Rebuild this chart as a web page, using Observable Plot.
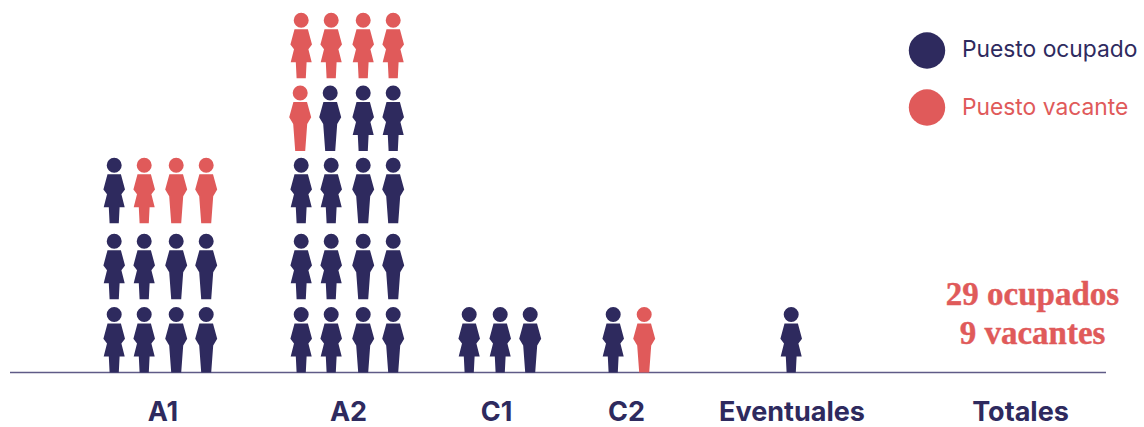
<!DOCTYPE html>
<html>
<head>
<meta charset="utf-8">
<script src="https://cdn.jsdelivr.net/npm/d3@7"></script>
<script src="https://cdn.jsdelivr.net/npm/@observablehq/plot@0.6"></script>
<style>html,body{margin:0;padding:0;background:#fff}svg{display:block}</style>
</head>
<body>
<div id="chart"></div>
<script>
// ---- data: one string per row, bottom row first. W/M = figure, lower case = vacant
const groups = ["A1", "A2", "C1", "C2", "Eventuales"];
const rowsA1 = ["WWMM", "WWMM", "Wwmm"];
const rowsA2 = ["WWMM", "WWMM", "WWMM", "mMWW", "wwww"];
const rowsC1 = ["WWM"];
const rowsC2 = ["Wm"];
const rowsEventuales = ["W"];
const totalsText = ["29 ocupados", "9 vacantes"];
const totalsLabel = "Totales";
const legendLabels = ["Puesto ocupado", "Puesto vacante"];

// ---- layout & style
const navy = "#2e2a5e", coral = "#e05a5a";
const columnX = {
  A1: [113.7, 143.7, 175.7, 205.7],
  A2: [300.7, 330.7, 362.7, 392.7],
  C1: [468.7, 499.7, 529.7],
  C2: [612.7, 643.7],
  Eventuales: [790.7]
};
const rowY = [314, 240.7, 164.7, 92.5, 19.7];
const labelX = {A1: 162.5, A2: 348, C1: 496, C2: 626, Eventuales: 791.5};
const rowsOf = {A1: rowsA1, A2: rowsA2, C1: rowsC1, C2: rowsC2, Eventuales: rowsEventuales};

function figure(bodyPoints) {
  return {
    draw(ctx) {
      ctx.moveTo(7.5, 0);
      ctx.arc(0, 0, 7.5, 0, 2 * Math.PI);
      ctx.closePath();
      bodyPoints.forEach(([x, y], i) => i ? ctx.lineTo(x, y) : ctx.moveTo(x, y));
      ctx.closePath();
    }
  };
}
const woman = figure([[-6.7, 9], [6.7, 9], [10.8, 24.3], [7.2, 29], [10.5, 42], [5.4, 42], [4.6, 58], [-4.6, 58], [-5.4, 42], [-10.5, 42], [-7.2, 29], [-10.8, 24.3]]);
const man = figure([[-6.8, 9], [6.8, 9], [11, 24.3], [7, 31], [5, 58], [-5, 58], [-7, 31], [-11, 24.3]]);

const people = groups.flatMap(g => rowsOf[g].flatMap((row, r) => [...row].map((c, i) => ({
  x: columnX[g][i] - (g === "A2" && r === 3 && i < 2 ? 1 : 0),
  y: rowY[r],
  kind: c.toUpperCase(),
  vacant: c === c.toLowerCase()
}))));

const labelFont = {fontFamily: "Inter", fontWeight: 700, fontSize: 27};
const labelY = 411.5;
const chart = Plot.plot({
  width: 1144, height: 427,
  margin: 0,
  x: {type: "linear", domain: [0, 1144], range: [0, 1144], axis: null},
  y: {type: "linear", domain: [0, 427], range: [0, 427], axis: null},
  marks: [
    Plot.ruleY([372], {x1: 10, x2: 1106, stroke: "#5f5b87", strokeWidth: 1.5}),
    Plot.dot(people.filter(d => d.kind === "W"), {x: "x", y: "y", r: 7.5, symbol: woman, stroke: null, fill: d => d.vacant ? coral : navy}),
    Plot.dot(people.filter(d => d.kind === "M"), {x: "x", y: "y", r: 7.5, symbol: man, stroke: null, fill: d => d.vacant ? coral : navy}),
    Plot.text(groups, {x: d => labelX[d], y: labelY, text: d => d, fill: navy, ...labelFont}),
    Plot.text([totalsLabel], {x: 1020, y: labelY, text: d => d, fill: navy, ...labelFont}),
    Plot.text(totalsText, {x: 1032, y: (d, i) => [293.5, 333][i], text: d => d, fill: coral, fontFamily: "Liberation Serif", fontWeight: 700, fontSize: 33, stroke: coral, strokeWidth: 0.4}),
    Plot.dot(legendLabels, {x: 926.5, y: (d, i) => [50, 107][i], r: 18.2, fill: (d, i) => [navy, coral][i], stroke: null}),
    Plot.text(legendLabels, {x: 961.5, y: (d, i) => [49, 107][i], text: d => d, textAnchor: "start", fill: (d, i) => [navy, coral][i], fontFamily: "Inter", fontSize: 22.8})
  ]
});
document.getElementById("chart").append(chart);
</script>
</body>
</html>
